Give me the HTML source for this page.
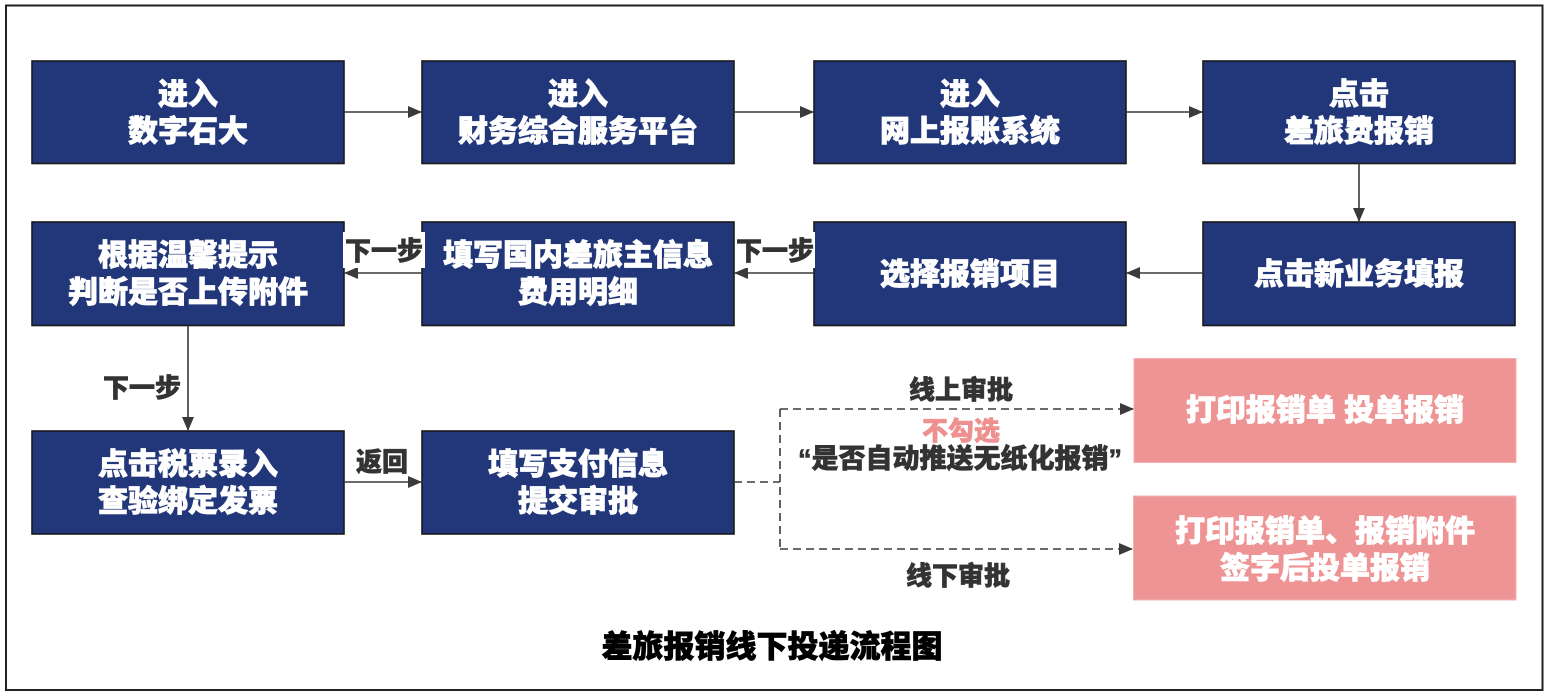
<!DOCTYPE html>
<html>
<head>
<meta charset="utf-8">
<style>
  html,body{margin:0;padding:0;background:#fff;}
  body{width:1551px;height:697px;overflow:hidden;}
  svg{display:block;}
  text{font-family:"Liberation Sans","Noto Sans CJK SC",sans-serif;font-weight:900;}
  .w{fill:#ffffff;font-size:30px;stroke:#ffffff;stroke-width:0.8px;}
  .lbl{fill:#333333;font-size:26px;stroke:#333333;stroke-width:0.6px;}
</style>
</head>
<body>
<svg width="1551" height="697" viewBox="0 0 1551 697" xmlns="http://www.w3.org/2000/svg">
  <defs>
    <marker id="ar" markerWidth="14" markerHeight="12" refX="13" refY="6" orient="auto" markerUnits="userSpaceOnUse">
      <path d="M0,0 L14,6 L0,12 Z" fill="#3a3a3a"/>
    </marker>
  </defs>

  <!-- outer frame -->
  <rect x="6" y="5.5" width="1536.5" height="684.5" fill="#fff" stroke="#222" stroke-width="2"/>

  <!-- navy boxes -->
  <g fill="#22367a" stroke="#1a1a1a" stroke-width="1.6">
    <rect x="32" y="61" width="312" height="102.5"/>
    <rect x="422" y="61" width="312" height="102.5"/>
    <rect x="814" y="61" width="312" height="102.5"/>
    <rect x="1203" y="61" width="312" height="102.5"/>

    <rect x="32" y="222" width="312" height="103.5"/>
    <rect x="422" y="222" width="312" height="103.5"/>
    <rect x="814" y="222" width="312" height="103.5"/>
    <rect x="1203" y="222" width="312" height="103.5"/>

    <rect x="32" y="431" width="312" height="103"/>
    <rect x="422" y="431" width="312" height="103"/>
  </g>

  <!-- pink boxes -->
  <rect x="1134" y="358.5" width="382" height="104" fill="#ef9494" stroke="#f3b0b0" stroke-width="1"/>
  <rect x="1133.5" y="496" width="382.5" height="104" fill="#ef9494" stroke="#f3b0b0" stroke-width="1"/>

  <!-- solid arrows -->
  <g stroke="#3a3a3a" stroke-width="1.6" fill="none">
    <line x1="344" y1="112" x2="421" y2="112" marker-end="url(#ar)"/>
    <line x1="734" y1="112" x2="813" y2="112" marker-end="url(#ar)"/>
    <line x1="1126" y1="112" x2="1202" y2="112" marker-end="url(#ar)"/>
    <line x1="1359" y1="163.5" x2="1359" y2="221" marker-end="url(#ar)"/>
    <line x1="1203" y1="273" x2="1127" y2="273" marker-end="url(#ar)"/>
    <line x1="814" y1="273" x2="735" y2="273" marker-end="url(#ar)"/>
    <line x1="422" y1="273" x2="345" y2="273" marker-end="url(#ar)"/>
    <line x1="188" y1="325.5" x2="188" y2="430" marker-end="url(#ar)"/>
    <line x1="344" y1="482" x2="421" y2="482" marker-end="url(#ar)"/>
  </g>

  <!-- dashed connectors -->
  <g stroke="#3a3a3a" stroke-width="1.6" fill="none" stroke-dasharray="8,5">
    <polyline points="734,482 780,482"/>
    <polyline points="780,409 780,549"/>
    <line x1="780" y1="409" x2="1133" y2="409" marker-end="url(#ar)"/>
    <line x1="780" y1="549" x2="1132" y2="549" marker-end="url(#ar)"/>
  </g>

  <!-- label backgrounds -->
  <rect x="343" y="232" width="82" height="36" fill="#fff"/>
  <rect x="735" y="232" width="80" height="36" fill="#fff"/>

  <!-- box texts -->
  <g text-anchor="middle" dominant-baseline="central">
    <text class="w" x="188" y="95">进入</text>
    <text class="w" x="188" y="132">数字石大</text>
    <text class="w" x="578" y="95">进入</text>
    <text class="w" x="578" y="132">财务综合服务平台</text>
    <text class="w" x="970" y="95">进入</text>
    <text class="w" x="970" y="132">网上报账系统</text>
    <text class="w" x="1359" y="95">点击</text>
    <text class="w" x="1359" y="132">差旅费报销</text>

    <text class="w" x="188" y="256">根据温馨提示</text>
    <text class="w" x="188" y="293">判断是否上传附件</text>
    <text class="w" x="578" y="256">填写国内差旅主信息</text>
    <text class="w" x="578" y="293">费用明细</text>
    <text class="w" x="970" y="275">选择报销项目</text>
    <text class="w" x="1359" y="275">点击新业务填报</text>

    <text class="w" x="188" y="465">点击税票录入</text>
    <text class="w" x="188" y="502">查验绑定发票</text>
    <text class="w" x="578" y="465">填写支付信息</text>
    <text class="w" x="578" y="502">提交审批</text>

    <text class="w" x="1325" y="411">打印报销单 投单报销</text>
    <text class="w" x="1325" y="532">打印报销单、报销附件</text>
    <text class="w" x="1325" y="569">签字后投单报销</text>
  </g>

  <!-- connector labels -->
  <g text-anchor="middle" dominant-baseline="central">
    <text class="lbl" x="384" y="251">下一步</text>
    <text class="lbl" x="775" y="251">下一步</text>
    <text class="lbl" x="142" y="388">下一步</text>
    <text class="lbl" x="382" y="462">返回</text>
    <text class="lbl" x="961" y="390">线上审批</text>
    <text x="961" y="431" style="fill:#ee9090;font-size:26px;stroke:#ee9090;stroke-width:0.6px;">不勾选</text>
    <text x="960" y="459" style="fill:#333;font-size:27px;stroke:#333;stroke-width:0.6px;">“是否自动推送无纸化报销”</text>
    <text class="lbl" x="958" y="576">线下审批</text>
    <text x="772" y="647" style="fill:#000;font-size:31px;stroke:#000;stroke-width:0.7px;">差旅报销线下投递流程图</text>
  </g>
</svg>
</body>
</html>
